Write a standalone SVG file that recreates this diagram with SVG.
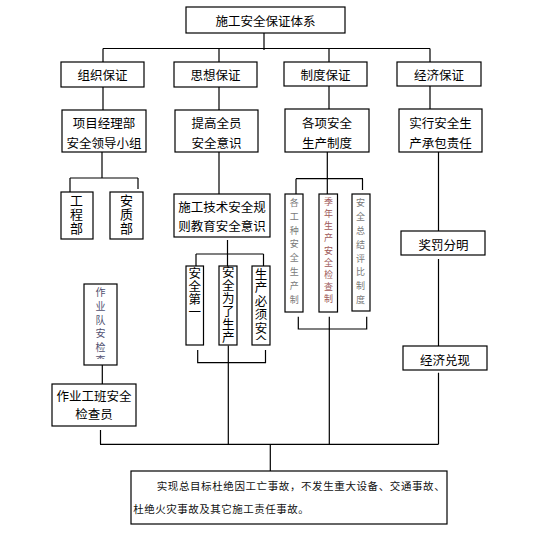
<svg xmlns="http://www.w3.org/2000/svg" width="543" height="552" viewBox="0 0 543 552">
<style>
.b{fill:#fff;stroke:#000;stroke-width:1.2}
.c{fill:none;stroke:#000;stroke-width:1.2}
.t{font-family:"Noto Sans CJK SC","Liberation Sans",sans-serif;font-size:12.5px;fill:#000;text-anchor:middle;dominant-baseline:central}
.v{font-family:"Noto Sans CJK SC","Liberation Sans",sans-serif;font-size:12.5px;fill:#000;writing-mode:vertical-rl}
.s{font-family:"Noto Sans CJK SC","Liberation Sans",sans-serif;font-size:9px;fill:#7a7a7a;writing-mode:vertical-rl}
.m{font-family:"Noto Sans CJK SC","Liberation Sans",sans-serif;font-size:10.5px;fill:#111;dominant-baseline:central}
</style>
<defs>
<clipPath id="clipA"><rect x="84" y="284" width="33" height="75"/></clipPath>
<clipPath id="clipB"><rect x="252" y="266" width="18" height="74"/></clipPath>
</defs>
<g id="connectors">
<path class="c" d="M264,33V50M103,48.5H430M103,48.5V62M219,48.5V62M329,48.5V62M430,48.5V62"/>
<path class="c" d="M103,87V110M219,87V110M329,86V109M430,86V109"/>
<path class="c" d="M102,152V178M70,178H138M70,178V192M138,178V189"/>
<path class="c" d="M219,152V194M227.5,240V254M196,254H263.5M196,254V266M227.5,254V266M263.5,254V266"/>
<path class="c" d="M228.3,345.5V444.3M197.7,350V362.7H265.5V350"/>
<path class="c" d="M327.3,152V178.7M296,178.7H363M296,178.7V194M327.3,178.7V194M362.5,178.7V190"/>
<path class="c" d="M329.3,316.7V444.3M298.3,316.7V329H366.7V316.7"/>
<path class="c" d="M438.5,152V231M438.5,259V346M438.5,372.7V444.3"/>
<path class="c" d="M102.3,365V384M100.5,430V444.3M100,444.3H438.5M270.3,444.3V471"/>
</g>
<g id="n-root"><rect class="b" x="186" y="7" width="159" height="26"/><text class="t" x="265.5" y="20.5">施工安全保证体系</text></g>
<g id="n-zuzhi"><rect class="b" x="61" y="62" width="83" height="25"/><text class="t" x="102.5" y="74.5">组织保证</text></g>
<g id="n-sixiang"><rect class="b" x="174" y="62" width="83" height="25"/><text class="t" x="215.5" y="74.5">思想保证</text></g>
<g id="n-zhidu"><rect class="b" x="284" y="62" width="83" height="24"/><text class="t" x="325.5" y="74">制度保证</text></g>
<g id="n-jingji"><rect class="b" x="397" y="62" width="84" height="24"/><text class="t" x="439" y="74">经济保证</text></g>
<g id="n-xiangmu"><rect class="b" x="62" y="110" width="84" height="42"/><text class="t" x="104" y="122.7">项目经理部</text><text class="t" x="104" y="142.7">安全领导小组</text></g>
<g id="n-tigao"><rect class="b" x="175" y="110" width="83" height="42"/><text class="t" x="216.5" y="122.7">提高全员</text><text class="t" x="216.5" y="142.7">安全意识</text></g>
<g id="n-gexiang"><rect class="b" x="285" y="109" width="84" height="43"/><text class="t" x="327" y="122.7">各项安全</text><text class="t" x="327" y="142.7">生产制度</text></g>
<g id="n-shixing"><rect class="b" x="399" y="109" width="83" height="43"/><text class="t" x="440.5" y="122.7">实行安全生</text><text class="t" x="440.5" y="142.7">产承包责任</text></g>
<g id="n-gongcheng"><rect class="b" x="61" y="192" width="32" height="47"/><text class="v" x="76.5" y="193.5" style="font-size:13px;letter-spacing:1px">工程部</text></g>
<g id="n-anzhi"><rect class="b" x="110" y="192" width="33" height="47"/><text class="v" x="126.5" y="193.5" style="font-size:13px;letter-spacing:1px">安质部</text></g>
<g id="n-shigong"><rect class="b" x="174" y="194" width="96" height="43"/><text class="t" x="222" y="206">施工技术安全规</text><text class="t" x="222" y="225">则教育安全意识</text></g>
<g id="n-gezhong"><rect class="b" x="285" y="194" width="18" height="118"/><text class="s" x="294.3" y="198" style="letter-spacing:4.8px">各工种安全生产制</text></g>
<g id="n-jinian"><rect class="b" x="319" y="194" width="18.5" height="118"/><text class="s" x="328.5" y="197.2" style="letter-spacing:3.1px;fill:#a05a5a">季年生产安全检查制</text></g>
<g id="n-zongjie"><rect class="b" x="352" y="194" width="18" height="117"/><text class="s" x="360.5" y="198" style="letter-spacing:4.9px">安全总结评比制度</text></g>
<g id="n-jiangfa"><rect class="b" x="401" y="231" width="84" height="24"/><text class="t" x="443.5" y="244.5">奖罚分明</text></g>
<g id="n-zuoyedui"><rect class="b" x="84" y="284" width="33" height="81"/><text class="s" x="100.5" y="287.7" clip-path="url(#clipA)" style="font-size:10px;letter-spacing:3.6px;fill:#505070">作业队安检查</text></g>
<g id="n-diyi"><rect class="b" x="186" y="266" width="17.5" height="79"/><text class="v" x="194.7" y="266.75" style="letter-spacing:0.5px">安全第一</text></g>
<g id="n-weile"><rect class="b" x="219" y="266" width="18" height="79"/><text class="v" x="228.2" y="266.25" style="letter-spacing:0.5px">安全为了生产</text></g>
<g id="n-bixu"><rect class="b" x="252" y="266" width="18" height="79"/><text class="v" x="261" y="267.75" clip-path="url(#clipB)" style="letter-spacing:1px">生产必须安全</text></g>
<g id="n-duixian"><rect class="b" x="403" y="346" width="84" height="24"/><text class="t" x="445" y="359.5">经济兑现</text></g>
<g id="n-banzu"><rect class="b" x="52" y="384" width="84" height="42"/><text class="t" x="94" y="395">作业工班安全</text><text class="t" x="94" y="413.3">检查员</text></g>
<g id="n-goal"><rect class="b" x="131" y="471" width="316" height="53"/><text class="m" x="156.7" y="485" textLength="288" lengthAdjust="spacing">实现总目标杜绝因工亡事故，不发生重大设备、交通事故、</text><text class="m" x="133.3" y="508.3" style="letter-spacing:0.5px">杜绝火灾事故及其它施工责任事故。</text></g>
</svg>
